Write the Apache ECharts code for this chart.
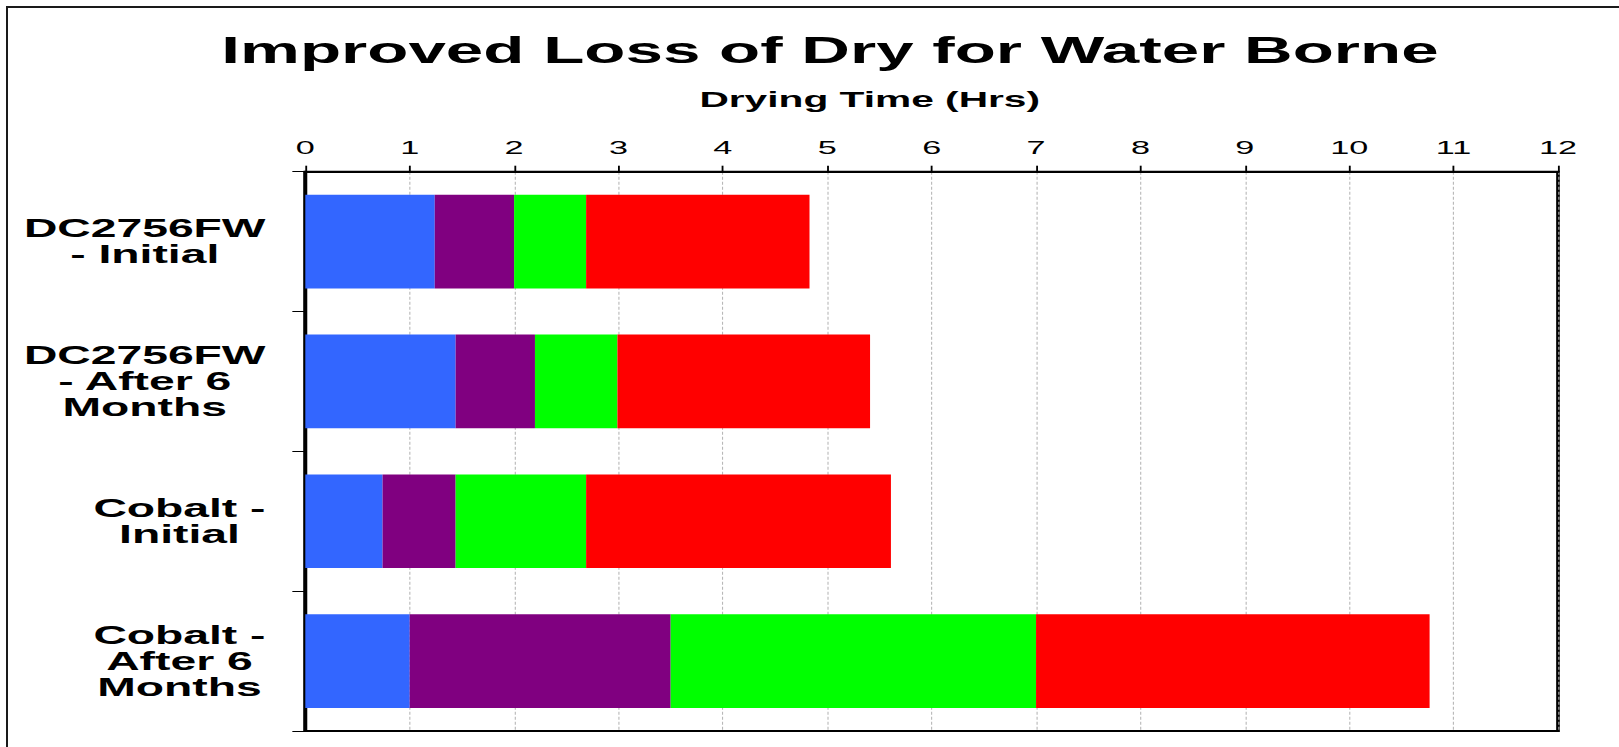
<!DOCTYPE html>
<html><head><meta charset="utf-8">
<script src="https://cdn.jsdelivr.net/npm/echarts@6/dist/echarts.min.js"></script>
<style>
html,body{margin:0;padding:0;background:#fff;overflow:hidden;}
#wrap{position:absolute;left:0;top:0;width:1619px;height:747px;overflow:hidden;background:#fff;}
#chart{position:absolute;left:0;top:0;width:875px;height:747px;transform:scaleX(1.85029);transform-origin:0 0;}
#frame{position:absolute;left:6px;top:6px;width:1640px;height:760px;border-left:2px solid #1a1a1a;border-top:2px solid #1a1a1a;pointer-events:none;}
</style></head>
<body><div id="wrap"><div id="chart"></div><div id="frame"></div></div>
<script>
// The original graphic is horizontally stretched; the chart is drawn at 875px wide and stretched to 1619px.
const S = 1619 / 875;

const titleText = 'Improved Loss of Dry for Water Borne';
const axisTitle = 'Drying Time (Hrs)';
const categories = ['DC2756FW\n- Initial', 'DC2756FW\n- After 6\nMonths', 'Cobalt -\nInitial', 'Cobalt -\nAfter 6\nMonths'];
const seriesNames = ['Set to Touch', 'Tack Free', 'Dry to Handle', 'Dry Hard'];
const seriesColors = ['#3366FF', '#800080', '#00FF00', '#FF0000'];
const stage1 = [1.24, 1.44, 0.74, 1.00];
const stage2 = [0.76, 0.76, 0.70, 2.50];
const stage3 = [0.69, 0.79, 1.25, 3.50];
const stage4 = [2.14, 2.42, 2.92, 3.77];
const xMin = 0, xMax = 12, xInterval = 1;

const FONT = "'Liberation Sans', Arial, sans-serif";
const seriesData = [stage1, stage2, stage3, stage4];

const chart = echarts.init(document.getElementById('chart'), null, {renderer: 'svg'});
chart.setOption({
  animation: false,
  backgroundColor: '#fff',
  title: [
    {text: titleText, left: 830 / S, top: 32, textAlign: 'center', padding: 0,
     textStyle: {fontFamily: FONT, fontSize: 36.4, fontWeight: 'bold', color: '#000'}},
    {text: axisTitle, left: 869.7 / S, top: 88, textAlign: 'center', padding: 0,
     textStyle: {fontFamily: FONT, fontSize: 22, fontWeight: 'bold', color: '#000'}}
  ],
  grid: {left: 305.3 / S, right: (1619 - 1558) / S, top: 171.7, bottom: 16,
         show: true, borderColor: '#000', borderWidth: 2, backgroundColor: 'transparent', containLabel: false},
  xAxis: {
    type: 'value', position: 'top', min: xMin, max: xMax, interval: xInterval,
    axisLine: {show: true, lineStyle: {color: '#000', width: 2}},
    axisTick: {show: true, inside: false, length: 6, lineStyle: {color: '#000', width: 1}},
    axisLabel: {margin: 15, fontFamily: FONT, fontSize: 18.5, color: '#000'},
    splitLine: {show: true, lineStyle: {color: '#b8b8b8', width: 0.6, type: [3, 2]}}
  },
  yAxis: {
    type: 'category', data: categories, inverse: true,
    axisLine: {show: true, lineStyle: {color: '#000', width: 2}},
    axisTick: {show: true, length: 7, lineStyle: {color: '#000', width: 1}},
    axisLabel: {
      margin: 21.5, align: 'right',
      formatter: function (v) { return v.split('\n').map(function (l) { return '{c|' + l + '}'; }).join('\n'); },
      rich: {c: {align: 'center', fontFamily: FONT, fontSize: 25, fontWeight: 'bold', color: '#000', lineHeight: 26}}
    },
    splitLine: {show: false}
  },
  series: seriesNames.map(function (name, i) {
    return {
      name: name, type: 'bar', stack: 'total', barCategoryGap: '33%',
      itemStyle: {color: seriesColors[i]},
      data: seriesData[i]
    };
  })
});
</script>
</body></html>
